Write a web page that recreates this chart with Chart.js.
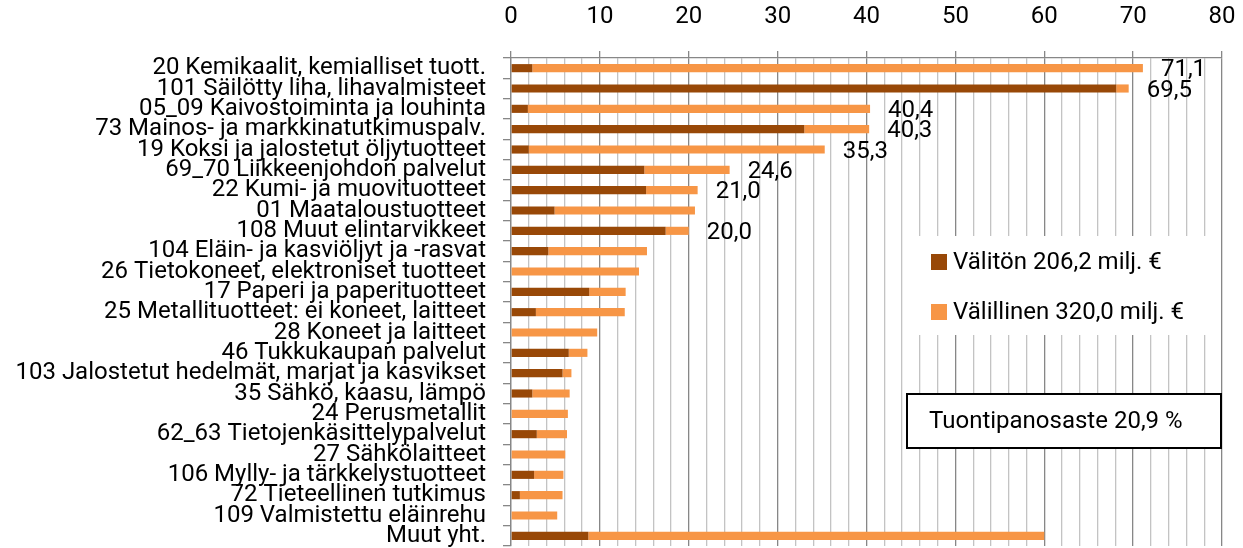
<!DOCTYPE html>
<html lang="fi">
<head>
<meta charset="UTF-8">
<title>Tuontipanokset</title>
<script src="https://cdn.jsdelivr.net/npm/chart.js"></script>
<style>
  body { margin:0; padding:0; background:#fff; }
  #wrap { width:1243px; height:548px; }
</style>
</head>
<body>
<div id="wrap"><canvas id="chart" width="1243" height="548"></canvas></div>
<script>
// toimialat ylhäältä alas
const categories = [
  '20 Kemikaalit, kemialliset tuott.',
  '101 Säilötty liha, lihavalmisteet',
  '05_09 Kaivostoiminta ja louhinta',
  '73 Mainos- ja markkinatutkimuspalv.',
  '19 Koksi ja jalostetut öljytuotteet',
  '69_70 Liikkeenjohdon palvelut',
  '22 Kumi- ja muovituotteet',
  '01 Maataloustuotteet',
  '108 Muut elintarvikkeet',
  '104 Eläin- ja kasviöljyt ja -rasvat',
  '26 Tietokoneet, elektroniset tuotteet',
  '17 Paperi ja paperituotteet',
  '25 Metallituotteet: ei koneet, laitteet',
  '28 Koneet ja laitteet',
  '46 Tukkukaupan palvelut',
  '103 Jalostetut hedelmät, marjat ja kasvikset',
  '35 Sähkö, kaasu, lämpö',
  '24 Perusmetallit',
  '62_63 Tietojenkäsittelypalvelut',
  '27 Sähkölaitteet',
  '106 Mylly- ja tärkkelystuotteet',
  '72 Tieteellinen tutkimus',
  '109 Valmistettu eläinrehu',
  'Muut yht.'
];

const valiton   = [2.4, 68.1, 1.9, 33.0, 2.0, 15.0, 15.2, 4.9, 17.4, 4.2, 0, 8.8, 2.8, 0, 6.5, 5.8, 2.4, 0, 2.9, 0, 2.6, 1.0, 0, 8.7];
const valillinen = [68.7, 1.4, 38.5, 7.3, 33.3, 9.6, 5.8, 15.8, 2.6, 11.1, 14.4, 4.1, 10.0, 9.7, 2.1, 1.0, 4.2, 6.4, 3.4, 6.1, 3.3, 4.8, 5.2, 51.3];

// summatekstit, vain osalla riveistä
const totalLabels = ['71,1', '69,5', '40,4', '40,3', '35,3', '24,6', '21,0', null, '20,0',
  null, null, null, null, null, null, null, null, null, null, null, null, null, null, null];

const seriesNames = ['Välitön 206,2 milj. €', 'Välillinen 320,0 milj. €'];
const boxText = 'Tuontipanosaste 20,9 %';

const xTicks = [0, 10, 20, 30, 40, 50, 60, 70, 80];

const DARK = '#984807', LIGHT = '#f79646';
const AXIS = '#878787', MINOR = '#c3c3c3';
const FONT = 'Roboto';
const FS = 24;

const totalLabelPlugin = {
  id: 'totalLabels',
  afterDatasetsDraw(chart) {
    const { ctx, scales: { x, y } } = chart;
    ctx.save();
    ctx.font = FS + 'px ' + FONT;
    ctx.fillStyle = '#000';
    ctx.textAlign = 'left';
    ctx.textBaseline = 'middle';
    totalLabels.forEach((t, i) => {
      if (!t) return;
      const px = x.getPixelForValue(valiton[i] + valillinen[i]);
      ctx.fillText(t, px + 18, y.getPixelForValue(i) + 2);
    });
    ctx.restore();
  }
};

const boxesPlugin = {
  id: 'boxes',
  afterDraw(chart) {
    const { ctx } = chart;
    ctx.save();
    // selite
    ctx.fillStyle = '#fff';
    ctx.fillRect(906, 236, 313, 99);
    ctx.font = FS + 'px ' + FONT;
    ctx.textBaseline = 'middle';
    chart.data.datasets.forEach((ds, i) => {
      const cy = 262 + i * 50;
      ctx.fillStyle = ds.backgroundColor;
      ctx.fillRect(931, cy - 8, 16, 16);
      ctx.fillStyle = '#000';
      ctx.fillText(ds.label, 953, cy + 1);
    });
    // tekstilaatikko
    ctx.fillStyle = '#fff';
    ctx.fillRect(907, 394, 314, 54);
    ctx.strokeStyle = '#000';
    ctx.lineWidth = 2;
    ctx.strokeRect(907, 394, 314, 54);
    ctx.fillStyle = '#000';
    ctx.fillText(boxText, 929, 422);
    ctx.restore();
  }
};

new Chart(document.getElementById('chart'), {
  type: 'bar',
  data: {
    labels: categories,
    datasets: [
      { label: seriesNames[0], data: valiton, backgroundColor: DARK },
      { label: seriesNames[1], data: valillinen, backgroundColor: LIGHT }
    ]
  },
  options: {
    indexAxis: 'y',
    responsive: false,
    animation: false,
    layout: { padding: { left: 0, right: 21, top: 0, bottom: 2 } },
    datasets: { bar: { barPercentage: 0.4, categoryPercentage: 1.0, borderWidth: 0 } },
    scales: {
      x: {
        position: 'top',
        stacked: true,
        min: 0, max: 80,
        afterFit: s => { s.height = 58; s.paddingLeft = 0; s.paddingRight = 0; },
        afterBuildTicks: s => {
          const t = [];
          for (let v = 0; v <= 80; v += 2) t.push({ value: v });
          s.ticks = t;
        },
        ticks: {
          autoSkip: false, maxRotation: 0,
          padding: 20,
          color: '#000',
          font: { family: FONT, size: FS },
          callback: v => xTicks.includes(v) ? String(v) : ''
        },
        grid: {
          color: c => (c.tick && c.tick.value % 10 === 0) ? AXIS : MINOR,
          tickColor: c => (c.tick && c.tick.value % 10 === 0) ? AXIS : 'rgba(0,0,0,0)',
          tickLength: 7,
          lineWidth: 1.3
        },
        border: { color: AXIS, width: 1.3 }
      },
      y: {
        stacked: true,
        afterFit: s => { s.width = 511; s.paddingTop = 0; s.paddingBottom = 0; },
        ticks: {
          autoSkip: false,
          padding: 17,
          color: '#000',
          font: { family: FONT, size: FS }
        },
        grid: { drawOnChartArea: false, tickLength: 8, tickColor: AXIS, lineWidth: 1.3 },
        border: { color: AXIS, width: 1.3 }
      }
    },
    plugins: {
      legend: { display: false },
      tooltip: { enabled: false }
    }
  },
  plugins: [totalLabelPlugin, boxesPlugin]
});
</script>
</body>
</html>
